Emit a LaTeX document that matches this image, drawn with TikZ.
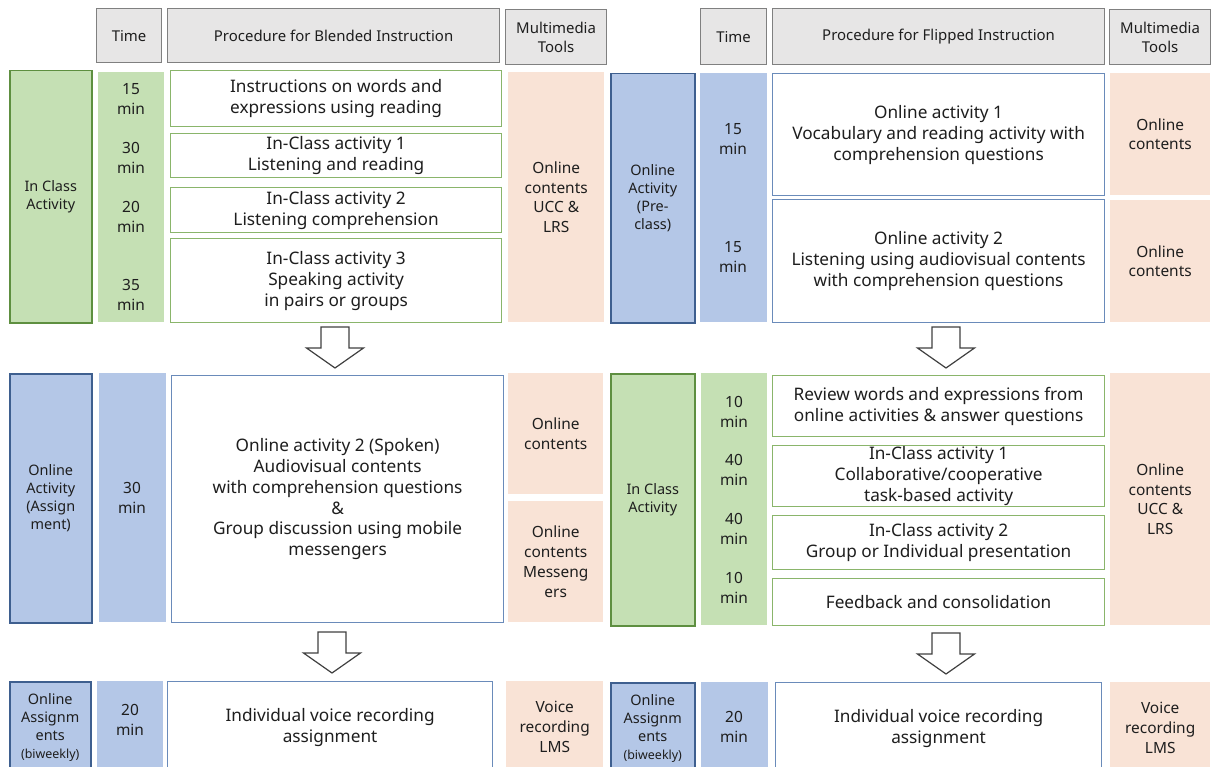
\documentclass[tikz,border=0pt]{standalone}
\usepackage{fontspec}
\setmainfont{Noto Sans}
\definecolor{gfill}{HTML}{C5E0B4}
\definecolor{gline}{HTML}{5E8F40}
\definecolor{gbox}{HTML}{8AB56B}
\definecolor{bfill}{HTML}{B4C7E7}
\definecolor{bline}{HTML}{3E5F8F}
\definecolor{bbox}{HTML}{6A8BBA}
\definecolor{pfill}{HTML}{F9E3D6}
\definecolor{hfill}{HTML}{E7E6E6}
\definecolor{hline}{HTML}{808080}
\definecolor{txt}{HTML}{1E1E1E}
\definecolor{arrline}{HTML}{404040}
\newcommand{\rbox}[7]{\node[#2, anchor=north west, inner sep=0pt, minimum width={#5bp-#3bp}, minimum height={#6bp-#4bp}] (#1) at (#3,#4) {#7};}
\begin{document}
\begin{tikzpicture}[x=1bp,y=-1bp, text=txt,
  hdr/.style={draw=hline, fill=hfill, line width=1.2bp, align=center, font=\fontsize{15}{19}\selectfont},
  glabel/.style={draw=gline, fill=gfill, line width=1.5bp, align=center, font=\fontsize{14.5}{18}\selectfont},
  blabel/.style={draw=bline, fill=bfill, line width=1.5bp, align=center, font=\fontsize{14.5}{18}\selectfont},
  gtime/.style={fill=gfill},
  btime/.style={fill=bfill},
  gproc/.style={draw=gbox, fill=white, line width=1.2bp, align=center, font=\fontsize{17.3}{21}\selectfont},
  bproc/.style={draw=bbox, fill=white, line width=1.2bp, align=center, font=\fontsize{17.3}{21}\selectfont},
  media/.style={fill=pfill, align=center, font=\fontsize{15.5}{20}\selectfont},
  tlabel/.style={align=center, inner sep=0pt, font=\fontsize{15.5}{20}\selectfont},
  downarr/.pic={\draw[draw=arrline, fill=white, line width=1.2bp, line join=miter] (-14,0) -- (14,0) -- (14,21) -- (28.5,21) -- (0,41) -- (-28.5,21) -- (-14,21) -- cycle;}
]
\useasboundingbox (0,0) rectangle (1211,767);
\clip (0,0) rectangle (1211,767);
% headers
\rbox{hL1}{hdr}{96}{8}{161}{62}{Time}
\rbox{hL2}{hdr}{167}{8}{499}{62}{Procedure for Blended Instruction}
\rbox{hL3}{hdr}{505}{9}{606}{64}{Multimedia\\Tools}
\rbox{hR1}{hdr}{700}{8}{766}{64}{Time}
\rbox{hR2}{hdr}{772}{8}{1104}{64}{Procedure for Flipped Instruction}
\rbox{hR3}{hdr}{1109}{9}{1210}{64}{Multimedia\\Tools}
% left top
\rbox{lA}{glabel}{9}{70}{91}{322}{In Class\\Activity}
\rbox{tA}{gtime}{98}{72}{164}{322}{}
\rbox{pA1}{gproc}{170}{70}{501}{126}{Instructions on words and\\expressions using reading}
\rbox{pA2}{gproc}{170}{133}{501}{177}{In-Class activity 1\\Listening and reading}
\rbox{pA3}{gproc}{170}{187}{501}{232}{In-Class activity 2\\Listening comprehension}
\rbox{pA4}{gproc}{170}{238}{501}{322}{In-Class activity 3\\Speaking activity\\in pairs or groups}
\rbox{mA}{media}{508}{72}{604}{322}{Online\\contents\\UCC \&\\LRS}
\node[tlabel] (tA1) at (131,99) {15\\min};
\node[tlabel] (tA2) at (131,158) {30\\min};
\node[tlabel] (tA3) at (131,217) {20\\min};
\node[tlabel] (tA4) at (131,295) {35\\min};
% right top
\rbox{rA}{blabel}{610}{73}{694}{322}{Online\\Activity\\(Pre-\\class)}
\rbox{rtA}{btime}{700}{73}{767}{322}{}
\rbox{rpA1}{bproc}{772}{73}{1104}{195}{Online activity 1\\Vocabulary and reading activity with\\comprehension questions}
\rbox{rpA2}{bproc}{772}{199}{1104}{322}{Online activity 2\\Listening using audiovisual contents\\with comprehension questions}
\rbox{rmA1}{media}{1110}{73}{1210}{195}{Online\\contents}
\rbox{rmA2}{media}{1110}{200}{1210}{322}{Online\\contents}
\node[tlabel] (rtA1) at (733,139) {15\\min};
\node[tlabel] (rtA2) at (733,257) {15\\min};
% left middle
\rbox{lB}{blabel}{9}{373}{91}{622}{Online\\Activity\\(Assign\\ment)}
\rbox{tB}{btime}{99}{373}{166}{622}{}
\rbox{pB}{bproc}{171}{375}{503}{622}{Online activity 2 (Spoken)\\Audiovisual contents\\with comprehension questions\\\&\\Group discussion using mobile\\messengers}
\rbox{mB1}{media}{508}{373}{603}{494}{Online\\contents}
\rbox{mB2}{media}{508}{501}{603}{622}{Online\\contents\\Messeng\\ers}
\node[tlabel] (tB1) at (132,498) {30\\min};
% right middle
\rbox{rB}{glabel}{610}{373}{694}{625}{In Class\\Activity}
\rbox{rtB}{gtime}{701}{373}{767}{625}{}
\rbox{rpB1}{gproc}{772}{375}{1104}{436}{Review words and expressions from\\online activities \& answer questions}
\rbox{rpB2}{gproc}{772}{445}{1104}{506}{In-Class activity 1\\Collaborative/cooperative\\task-based activity}
\rbox{rpB3}{gproc}{772}{515}{1104}{569}{In-Class activity 2\\Group or Individual presentation}
\rbox{rpB4}{gproc}{772}{578}{1104}{625}{Feedback and consolidation}
\rbox{rmB}{media}{1110}{373}{1210}{625}{Online\\contents\\UCC \&\\LRS}
\node[tlabel] (rtB1) at (734,412) {10\\min};
\node[tlabel] (rtB2) at (734,470) {40\\min};
\node[tlabel] (rtB3) at (734,529) {40\\min};
\node[tlabel] (rtB4) at (734,588) {10\\min};
% bottom left
\rbox{lC}{blabel}{9}{681}{90}{773}{Online\\Assignm\\ents\\{\fontsize{12.5}{18}\selectfont(biweekly)}}
\rbox{tC}{btime}{97}{681}{163}{773}{}
\rbox{pC}{bproc}{167}{681}{492}{773}{Individual voice recording\\assignment}
\rbox{mC}{media}{506}{681}{603}{773}{Voice\\recording\\LMS}
\node[tlabel] (tC1) at (130,720) {20\\min};
% bottom right
\rbox{rC}{blabel}{610}{682}{694}{773}{Online\\Assignm\\ents\\{\fontsize{12.5}{18}\selectfont(biweekly)}}
\rbox{rtC}{btime}{701}{682}{768}{773}{}
\rbox{rpC}{bproc}{775}{682}{1101}{773}{Individual voice recording\\assignment}
\rbox{rmC}{media}{1110}{682}{1210}{773}{Voice\\recording\\LMS}
\node[tlabel] (rtC1) at (734,727) {20\\min};
% block arrows
\pic at (335,327) {downarr};
\pic at (946,327) {downarr};
\pic at (332,632) {downarr};
\pic at (946,633) {downarr};
\end{tikzpicture}
\end{document}
